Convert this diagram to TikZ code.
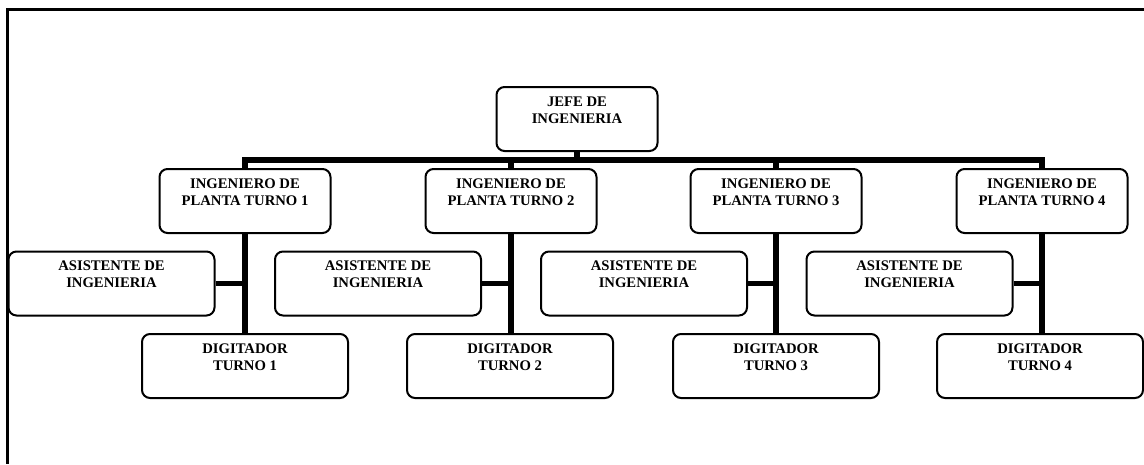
\documentclass[tikz,border=0pt]{standalone}
\usepackage{fontspec}
\setmainfont{Liberation Serif}
\usepackage{tikz}

\tikzset{
  cargo/.style={draw,line width=1.5pt,rounded corners=6pt,inner sep=0pt,anchor=north,
    align=center,font=\fontsize{11}{12.75}\selectfont\bfseries,
    text height=27pt,text depth=21pt},
  jefebox/.style={cargo,minimum width=120.75pt},
  ingbox/.style={cargo,minimum width=128.25pt},
  auxbox/.style={cargo,minimum width=154.5pt},
  linea/.style={line width=4pt},
}

\begin{document}
\begin{tikzpicture}[x=0.75pt,y=-0.75pt]
        \useasboundingbox (0,0) rectangle (1144,464);
        % marco
        \draw[line width=2pt] (1144,9.5) -- (7.5,9.5) -- (7.5,464);
        % jefe
        \node[jefebox] (jefe) at (577,86) {JEFE DE\\INGENIERIA};
        % ingenieros de planta
        \node[ingbox] (ing1) at (245,168) {INGENIERO DE\\PLANTA TURNO 1};
        \node[ingbox] (ing2) at (511,168) {INGENIERO DE\\PLANTA TURNO 2};
        \node[ingbox] (ing3) at (776,168) {INGENIERO DE\\PLANTA TURNO 3};
        \node[ingbox] (ing4) at (1042,168) {INGENIERO DE\\PLANTA TURNO 4};
        % asistentes
        \node[auxbox] (asis1) at (111.5,250.5) {ASISTENTE DE\\INGENIERIA};
        \node[auxbox] (asis2) at (378,250.5) {ASISTENTE DE\\INGENIERIA};
        \node[auxbox] (asis3) at (644,250.5) {ASISTENTE DE\\INGENIERIA};
        \node[auxbox] (asis4) at (909.5,250.5) {ASISTENTE DE\\INGENIERIA};
        % digitadores
        \node[auxbox] (dig1) at (245,333) {DIGITADOR\\TURNO 1};
        \node[auxbox] (dig2) at (510,333) {DIGITADOR\\TURNO 2};
        \node[auxbox] (dig3) at (776,333) {DIGITADOR\\TURNO 3};
        \node[auxbox] (dig4) at (1040,333) {DIGITADOR\\TURNO 4};
        % barra
        \coordinate (bus) at (577,160);
        \draw[linea] (jefe.south) -- (bus);
        \draw[linea] (ing1.north) |- (bus) -| (ing4.north);
        \draw[linea] (ing2.north) -- (ing2.north |- bus);
        \draw[linea] (ing3.north) -- (ing3.north |- bus);
        % ramas
        \draw[linea] (ing1.south) -- (ing1.south |- dig1.north);
        \draw[linea] (ing2.south) -- (ing2.south |- dig2.north);
        \draw[linea] (ing3.south) -- (ing3.south |- dig3.north);
        \draw[linea] (ing4.south) -- (ing4.south |- dig4.north);
        \draw[linea] (asis1.east) -- (asis1.east -| ing1.south);
        \draw[linea] (asis2.east) -- (asis2.east -| ing2.south);
        \draw[linea] (asis3.east) -- (asis3.east -| ing3.south);
        \draw[linea] (asis4.east) -- (asis4.east -| ing4.south);
      \end{tikzpicture}
\end{document}
